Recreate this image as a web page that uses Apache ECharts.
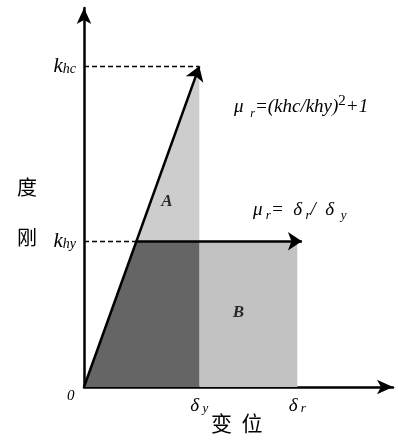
<!DOCTYPE html>
<html>
<head>
<meta charset="utf-8">
<script src="https://cdn.jsdelivr.net/npm/echarts@6/dist/echarts.min.js"></script>
<style>
html,body{margin:0;padding:0;background:#fff;}
#main{width:398px;height:443px;}
</style>
</head>
<body>
<div id="main"></div>
<script>
// 变位 (displacement) and 刚度 (stiffness), δy = 1, khy = 1
var dispY = 1.0, dispR = 1.85;
var kHy = 1.0, kHc = 2.2;
var xMax = 2.68, yMax = 2.6;
var arrowEndX = 1.89;

// where the elastic line crosses khy
var xCross = dispY * kHy / kHc;

// shaded regions: A (above khy), dark (under line, below khy), B (plastic part)
var regionA = [[xCross, kHy], [dispY, kHc], [dispY, kHy]];
var regionDark = [[0, 0], [xCross, kHy], [dispY, kHy], [dispY, 0]];
var regionB = [[dispY, 0], [dispY, kHy], [dispR, kHy], [dispR, 0]];

// area labels
var labelA = [0.72, 1.27];
var labelB = [1.34, 0.51];

var serif = '"Liberation Serif", "DejaVu Serif", serif';
var cjk = '"Noto Sans CJK SC", sans-serif';

var myChart = echarts.init(document.getElementById('main'));

// rich text piece; va = vertical alignment of the piece in its line
var txt = function (size, va, style) {
  return {
    fontFamily: serif, fontStyle: style || 'italic', fontSize: size,
    fill: '#000', color: '#000', lineHeight: 26, verticalAlign: va || 'middle'
  };
};

var option = {
  animation: false,
  backgroundColor: '#fff',
  grid: { left: 84, top: 8, right: 5, bottom: 56, containLabel: false },
  xAxis: {
    type: 'value', min: 0, max: xMax,
    splitLine: { show: false },
    axisTick: { show: false },
    axisLine: { lineStyle: { color: '#000', width: 2.5 }, symbol: ['none', 'arrow'], symbolSize: [11, 16] },
    axisLabel: {
      customValues: [dispY, dispR],
      margin: 9,
      formatter: function (v) { return v === dispY ? '{d|δ} {s|y}' : '{d|δ} {s|r}'; },
      rich: {
        d: { fontFamily: serif, fontStyle: 'italic', fontSize: 19, color: '#000' },
        s: { fontFamily: serif, fontStyle: 'italic', fontSize: 13, color: '#000', padding: [6, 0, 0, 0] }
      }
    }
  },
  yAxis: {
    type: 'value', min: 0, max: yMax,
    splitLine: { show: false },
    axisTick: { show: false },
    axisLine: { lineStyle: { color: '#000', width: 2.5 }, symbol: ['none', 'arrow'], symbolSize: [11, 16] },
    axisLabel: {
      customValues: [kHy, kHc],
      margin: 8,
      formatter: function (v) { return v === kHc ? '{k|k}{s|hc}' : '{k|k}{s|hy}'; },
      rich: {
        k: { fontFamily: serif, fontStyle: 'italic', fontSize: 21, color: '#000' },
        s: { fontFamily: serif, fontStyle: 'italic', fontSize: 14, color: '#000', padding: [6, 0, 0, 0] }
      }
    }
  },
  series: [
    {
      type: 'custom',
      coordinateSystem: 'cartesian2d',
      silent: true,
      data: [
        { value: regionB, color: '#c2c2c2' },
        { value: regionA, color: '#cdcdcd' },
        { value: regionDark, color: '#656565' }
      ],
      renderItem: function (params, api) {
        var item = option.series[0].data[params.dataIndex];
        var pts = item.value.map(function (p) { return api.coord(p); });
        return { type: 'polygon', shape: { points: pts }, style: { fill: item.color } };
      },
      z: 1
    },
    {
      // dashed guides from the y axis
      type: 'lines',
      coordinateSystem: 'cartesian2d',
      silent: true,
      lineStyle: { color: '#000', width: 1.3, type: [5, 3], opacity: 1 },
      data: [
        { coords: [[0, kHc], [dispY, kHc]] },
        { coords: [[0, kHy], [xCross, kHy]] }
      ],
      z: 3
    },
    {
      type: 'lines',
      coordinateSystem: 'cartesian2d',
      silent: true,
      symbol: ['none', 'arrow'],
      symbolSize: 14,
      lineStyle: { color: '#000', width: 2.5, opacity: 1 },
      data: [
        { coords: [[0, 0], [dispY, kHc]] },
        { coords: [[xCross, kHy], [arrowEndX, kHy]] }
      ],
      z: 4
    },
    {
      type: 'scatter',
      symbolSize: 0,
      silent: true,
      data: [
        { value: labelA, label: { show: true, formatter: 'A' } },
        { value: labelB, label: { show: true, formatter: 'B' } }
      ],
      label: { position: 'inside', fontFamily: serif, fontStyle: 'italic', fontWeight: 'bold', fontSize: 17, color: '#000' },
      z: 5
    }
  ],
  graphic: [
    { type: 'text', left: 67, top: 389, style: { text: '0', fontFamily: serif, fontStyle: 'italic', fontSize: 15, fill: '#000' } },
    { type: 'text', left: 211, top: 413, style: { text: '变  位', fontFamily: cjk, fontSize: 21, fill: '#000' } },
    { type: 'text', left: 17, top: 177, style: { text: '度', fontFamily: cjk, fontSize: 20, fill: '#000' } },
    { type: 'text', left: 17, top: 227, style: { text: '刚', fontFamily: cjk, fontSize: 20, fill: '#000' } },
    {
      type: 'text', left: 234, top: 94,
      style: {
        text: '{m|μ}  {s|r}{t|=(khc/khy)}{p|2}{t|+1}',
        rich: {
          m: txt(19),
          s: txt(12, 'bottom'),
          t: txt(19),
          p: txt(15, 'top', 'normal')
        }
      }
    },
    {
      type: 'text', left: 253, top: 200,
      style: {
        text: '{m|μ} {s|r}{t|=  δ} {s|r}{t|/  δ}  {s|y}',
        rich: {
          m: txt(19),
          s: txt(13, 'bottom'),
          t: txt(19)
        }
      }
    }
  ]
};
myChart.setOption(option);
</script>
</body>
</html>
